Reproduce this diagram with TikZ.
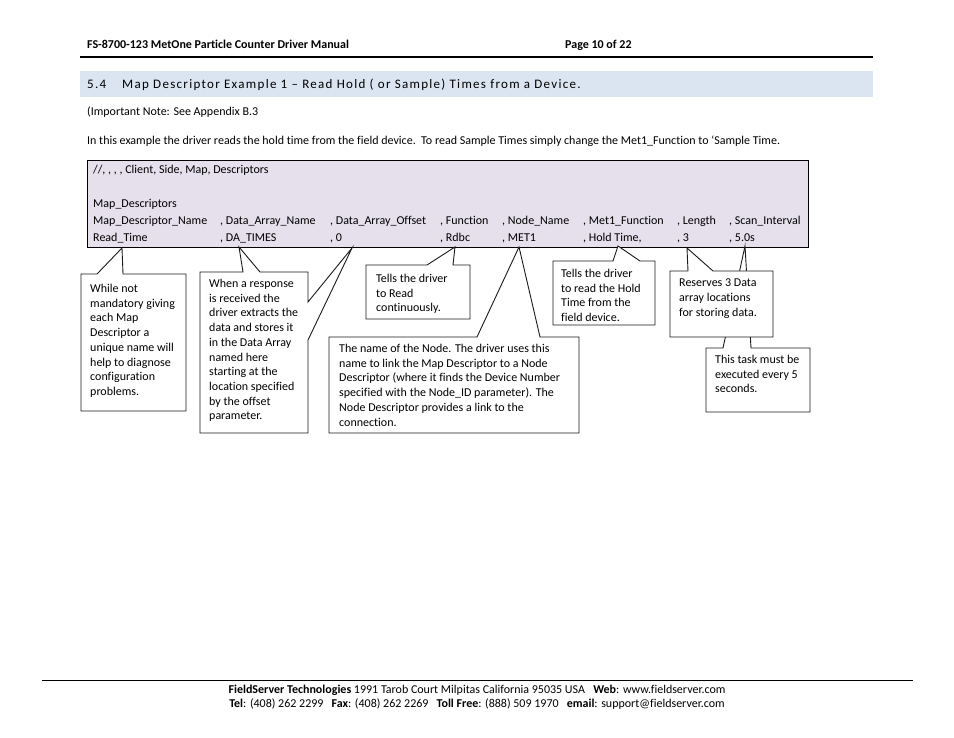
\documentclass[tikz,border=0pt]{standalone}
\usepackage{fontspec}
\setmainfont{Carlito}[Ligatures={NoCommon}]
\usepackage{tikz}
\usetikzlibrary{positioning}
\definecolor{fsBand}{HTML}{DBE5F1}
\definecolor{fsCodeFill}{HTML}{E5E0EC}
\definecolor{fsEdge}{HTML}{1A1A1A}
\tikzset{
  fsText/.style={
    anchor=base west,
    inner sep=0pt,
    font=\fontsize{12}{14.7}\selectfont
  },
  fsNote/.style={
    anchor=north west,
    inner sep=0pt,
    align=left,
    font=\fontsize{12}{14.7}\selectfont
  },
  fsCallout/.style={
    draw=fsEdge,
    fill=white,
    line width=0.9pt,
    line join=miter
  },
  fsCode/.style={
    draw=black,
    fill=fsCodeFill,
    line width=0.9pt,
    anchor=north west,
    inner sep=0pt
  }
}

\begin{document}
\begin{tikzpicture}[x=1pt, y=-1pt]
\useasboundingbox[fill=white] (0,0) rectangle (954,738);

% page header
\node[fsText, font=\fontsize{12}{14}\selectfont\bfseries] (docTitle) at (87,49)
  {FS-8700-123 MetOne Particle Counter Driver Manual};
\node[fsText, font=\fontsize{12}{14}\selectfont\bfseries] (pageNo) at (565,49)
  {Page 10 of 22};
\draw[line width=2.6pt] (80,57) -- (873,57);

% section heading band
\fill[fsBand] (80,71) rectangle (873,97);
\node[fsText, font=\fontsize{13}{15}\selectfont\addfontfeature{LetterSpace=10}] (secNo) at (87,88.5) {5.4};
\node[fsText, font=\fontsize{13}{15}\selectfont\addfontfeature{LetterSpace=10}] (secTitle) at (122,88.5)
  {Map Descriptor Example 1 – Read Hold ( or Sample) Times from a Device.};

\node[fsText] (impNote) at (87,115.5) {(Important Note: See Appendix B.3};
\node[fsText] (intro) at (87,144.5)
  {In this example the driver reads the hold time from the field device.\ \ To read Sample Times simply change the Met1\_Function to ‘Sample Time.};

% configuration block
\node[fsCode, minimum width=721, minimum height=87] (mapBox) at (87,160) {};
\node[fsText] (cmtLine) at (93,173.5) {//, , , , Client, Side, Map, Descriptors};
\node[fsText] (secLine) at (93,207.5) {Map\_Descriptors};
\foreach \x/\hd/\val in {93/{Map\_Descriptor\_Name}/{Read\_Time},
    220/{, Data\_Array\_Name}/{, DA\_TIMES},
    330/{, Data\_Array\_Offset}/{, 0},
    440/{, Function}/{, Rdbc},
    502/{, Node\_Name}/{, MET1},
    583/{, Met1\_Function}/{, Hold Time,},
    677/{, Length}/{, 3},
    729/{, Scan\_Interval}/{, 5.0s}}{
  \node[fsText] (hd\x) at (\x,224.5) {\hd};
  \node[fsText] (val\x) at (\x,241.5) {\val};
}

% pointer tips
\coordinate (tipRead) at (122,248);
\coordinate (tipDA) at (239,247);
\coordinate (tipOffset) at (352,248);
\coordinate (tipRdbc) at (455,247);
\coordinate (tipMet) at (519,247);
\coordinate (tipHold) at (618,246);
\coordinate (tipLen) at (687,248);
\coordinate (tipScan) at (745,246);

% callouts
\draw[fsCallout] (81,274) -- (97,274) -- (tipRead) -- (123,274) -- (186,274)
  -- (186,411) -- (81,411) -- cycle;
\node[fsNote] (noteName) at (90,284)
  {While not\\mandatory giving\\each Map\\Descriptor a\\unique name will\\help to diagnose\\configuration\\problems.};

\draw[fsCallout] (200,272) -- (243,272) -- (tipDA) -- (260,272) -- (308,272)
  -- (308,302) -- (tipOffset) -- (308,340) -- (308,433) -- (200,433) -- cycle;
\node[fsNote] (noteArray) at (209,279)
  {When a response\\is received the\\driver extracts the\\data and stores it\\in the Data Array\\named here\\starting at the\\location specified\\by the offset\\parameter.};

\draw[fsCallout] (366,265) -- (427,265) -- (tipRdbc) -- (453,265) -- (470,265)
  -- (470,319) -- (366,319) -- cycle;
\node[fsNote] (noteFunc) at (376,274)
  {Tells the driver\\to Read\\continuously.};

\draw[fsCallout] (329,337) -- (477,337) -- (tipMet) -- (540,337) -- (579,337)
  -- (579,433) -- (329,433) -- cycle;
\node[fsNote] (noteNode) at (339,344)
  {The name of the Node. The driver uses this\\name to link the Map Descriptor to a Node\\Descriptor (where it finds the Device Number\\specified with the Node\_ID parameter). The\\Node Descriptor provides a link to the\\connection.};

\draw[fsCallout] (553,261) -- (613,261) -- (tipHold) -- (640,261) -- (655,261)
  -- (655,325) -- (553,325) -- cycle;
\node[fsNote] (noteHold) at (561,269)
  {Tells the driver\\to read the Hold\\Time from the\\field device.};

\draw[fsCallout] (706,348) -- (723,348) -- (tipScan) -- (751,348) -- (810,348)
  -- (810,412) -- (706,412) -- cycle;
\node[fsNote] (noteScan) at (715,355)
  {This task must be\\executed every 5\\seconds.};

\draw[fsCallout] (670,271) -- (688,271) -- (tipLen) -- (713,271) -- (773,271)
  -- (773,337) -- (670,337) -- cycle;
\node[fsNote] (noteLen) at (679,279)
  {Reserves 3 Data\\array locations\\for storing data.};

% page footer
\draw[line width=0.8pt] (42,680) -- (913,680);
\node[fsText, anchor=base] (footAddr) at (477,693)
  {\textbf{FieldServer Technologies} 1991 Tarob Court Milpitas California 95035 USA\ \ \ \textbf{Web}: www.fieldserver.com};
\node[fsText, anchor=base] (footTel) at (477,707)
  {\textbf{Tel}: (408) 262 2299\ \ \ \textbf{Fax}: (408) 262 2269\ \ \ \textbf{Toll Free}: (888) 509 1970\ \ \ \textbf{email}: support@fieldserver.com};
\end{tikzpicture}
\end{document}
